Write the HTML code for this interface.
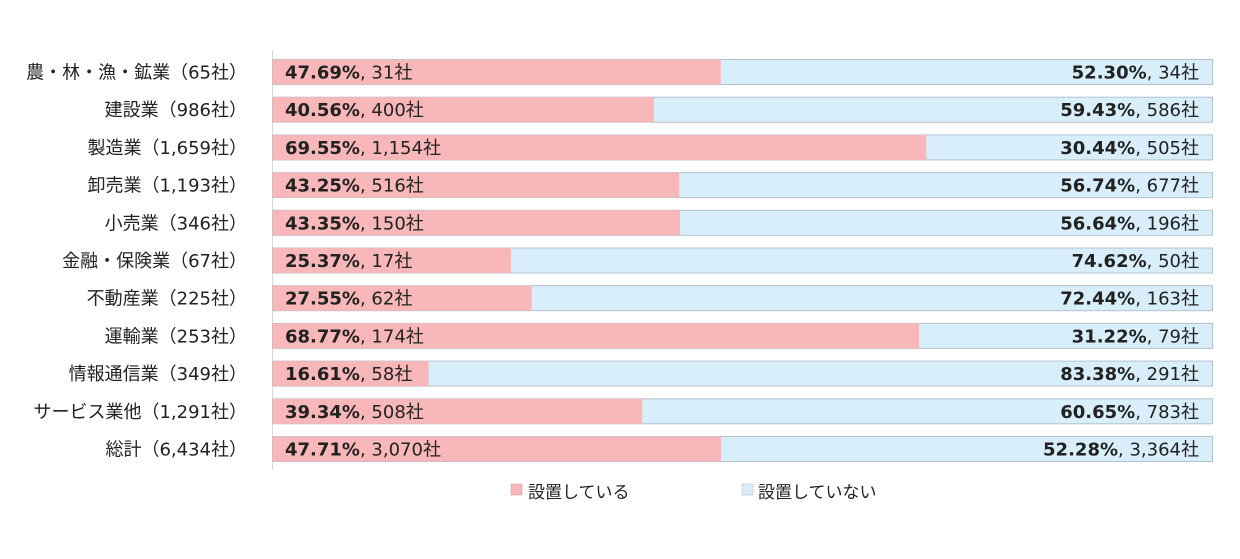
<!DOCTYPE html>
<html><head><meta charset="utf-8"><style>
html,body{margin:0;padding:0;background:#fff;}
svg{display:block;}
text{font-family:"DejaVu Sans","Noto Sans CJK JP",sans-serif;fill:#222;font-size:18px;}
.l{text-anchor:end;}
.b{font-weight:bold;}
.bg{fill:#d8eefb;stroke:#b4c2cc;stroke-width:1;}
.p{fill:#f8b7b9;}
</style></head><body>
<svg width="1240" height="559" viewBox="0 0 1240 559" xmlns="http://www.w3.org/2000/svg">
<line x1="272.5" y1="50" x2="272.5" y2="470" stroke="#d8d8d8" stroke-width="1"/>

<rect class="bg" x="272.5" y="59.5" width="940" height="25"/><rect class="p" x="272.5" y="59.5" width="448.3" height="25"/>
<text class="l" x="247" y="78.5">農・林・漁・鉱業（65社）</text>
<text x="285" y="78.5"><tspan class="b">47.69%</tspan>, 31社</text>
<text class="l" x="1199" y="78.5"><tspan class="b">52.30%</tspan>, 34社</text>

<rect class="bg" x="272.5" y="97.2" width="940" height="25"/><rect class="p" x="272.5" y="97.2" width="381.3" height="25"/>
<text class="l" x="247" y="116.2">建設業（986社）</text>
<text x="285" y="116.2"><tspan class="b">40.56%</tspan>, 400社</text>
<text class="l" x="1199" y="116.2"><tspan class="b">59.43%</tspan>, 586社</text>

<rect class="bg" x="272.5" y="134.9" width="940" height="25"/><rect class="p" x="272.5" y="134.9" width="653.8" height="25"/>
<text class="l" x="247" y="153.9">製造業（1,659社）</text>
<text x="285" y="153.9"><tspan class="b">69.55%</tspan>, 1,154社</text>
<text class="l" x="1199" y="153.9"><tspan class="b">30.44%</tspan>, 505社</text>

<rect class="bg" x="272.5" y="172.6" width="940" height="25"/><rect class="p" x="272.5" y="172.6" width="406.6" height="25"/>
<text class="l" x="247" y="191.6">卸売業（1,193社）</text>
<text x="285" y="191.6"><tspan class="b">43.25%</tspan>, 516社</text>
<text class="l" x="1199" y="191.6"><tspan class="b">56.74%</tspan>, 677社</text>

<rect class="bg" x="272.5" y="210.3" width="940" height="25"/><rect class="p" x="272.5" y="210.3" width="407.5" height="25"/>
<text class="l" x="247" y="229.3">小売業（346社）</text>
<text x="285" y="229.3"><tspan class="b">43.35%</tspan>, 150社</text>
<text class="l" x="1199" y="229.3"><tspan class="b">56.64%</tspan>, 196社</text>

<rect class="bg" x="272.5" y="248" width="940" height="25"/><rect class="p" x="272.5" y="248" width="238.5" height="25"/>
<text class="l" x="247" y="267">金融・保険業（67社）</text>
<text x="285" y="267"><tspan class="b">25.37%</tspan>, 17社</text>
<text class="l" x="1199" y="267"><tspan class="b">74.62%</tspan>, 50社</text>

<rect class="bg" x="272.5" y="285.7" width="940" height="25"/><rect class="p" x="272.5" y="285.7" width="259" height="25"/>
<text class="l" x="247" y="304.7">不動産業（225社）</text>
<text x="285" y="304.7"><tspan class="b">27.55%</tspan>, 62社</text>
<text class="l" x="1199" y="304.7"><tspan class="b">72.44%</tspan>, 163社</text>

<rect class="bg" x="272.5" y="323.4" width="940" height="25"/><rect class="p" x="272.5" y="323.4" width="646.4" height="25"/>
<text class="l" x="247" y="342.4">運輸業（253社）</text>
<text x="285" y="342.4"><tspan class="b">68.77%</tspan>, 174社</text>
<text class="l" x="1199" y="342.4"><tspan class="b">31.22%</tspan>, 79社</text>

<rect class="bg" x="272.5" y="361.1" width="940" height="25"/><rect class="p" x="272.5" y="361.1" width="156.1" height="25"/>
<text class="l" x="247" y="380.1">情報通信業（349社）</text>
<text x="285" y="380.1"><tspan class="b">16.61%</tspan>, 58社</text>
<text class="l" x="1199" y="380.1"><tspan class="b">83.38%</tspan>, 291社</text>

<rect class="bg" x="272.5" y="398.8" width="940" height="25"/><rect class="p" x="272.5" y="398.8" width="369.8" height="25"/>
<text class="l" x="247" y="417.8">サービス業他（1,291社）</text>
<text x="285" y="417.8"><tspan class="b">39.34%</tspan>, 508社</text>
<text class="l" x="1199" y="417.8"><tspan class="b">60.65%</tspan>, 783社</text>

<rect class="bg" x="272.5" y="436.5" width="940" height="25"/><rect class="p" x="272.5" y="436.5" width="448.5" height="25"/>
<text class="l" x="247" y="455.5">総計（6,434社）</text>
<text x="285" y="455.5"><tspan class="b">47.71%</tspan>, 3,070社</text>
<text class="l" x="1199" y="455.5"><tspan class="b">52.28%</tspan>, 3,364社</text>

<rect x="511" y="484" width="11" height="11" fill="#f8b7b9" stroke="#c8a0a0" stroke-width="0.5"/>
<text x="528" y="498" style="font-size:17px">設置している</text>
<rect x="742" y="484" width="11" height="11" fill="#d8eefb" stroke="#a8b8c8" stroke-width="0.5"/>
<text x="758" y="498" style="font-size:17px">設置していない</text>
</svg>
</body></html>
